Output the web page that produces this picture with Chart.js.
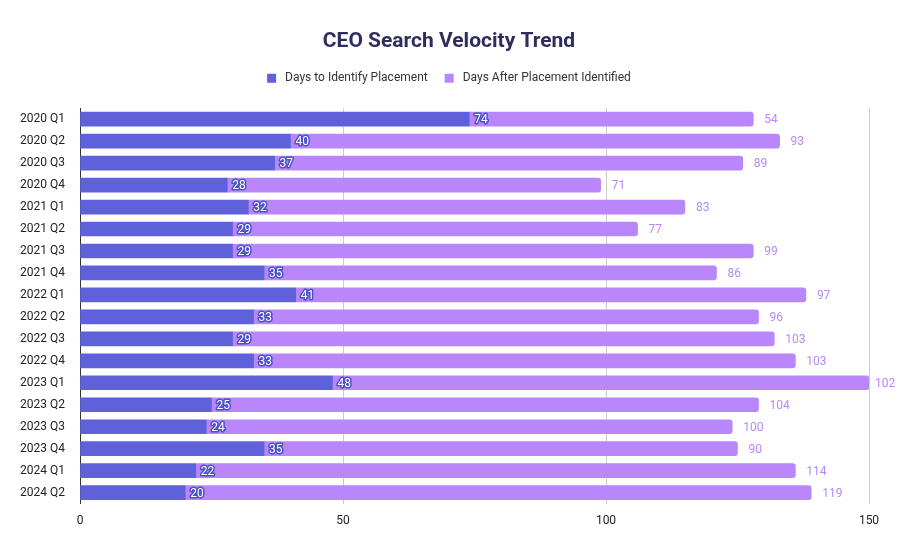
<!DOCTYPE html>
<html>
<head>
<meta charset="utf-8">
<script src="https://cdn.jsdelivr.net/npm/chart.js@4"></script>
<style>
  html, body { margin:0; padding:0; background:#fff; }
  #wrap { width:898px; height:555px; }
</style>
</head>
<body>
<div id="wrap"><canvas id="chart" width="898" height="555"></canvas></div>
<script>
// data
const quarters = ["2020 Q1","2020 Q2","2020 Q3","2020 Q4","2021 Q1","2021 Q2","2021 Q3","2021 Q4",
  "2022 Q1","2022 Q2","2022 Q3","2022 Q4","2023 Q1","2023 Q2","2023 Q3","2023 Q4","2024 Q1","2024 Q2"];
const daysToIdentify = [74,40,37,28,32,29,29,35,41,33,29,33,48,25,24,35,22,20];
const daysAfter = [54,93,89,71,83,77,99,86,97,96,103,103,102,104,100,90,114,119];
const xTicks = [0,50,100,150];

const BLUE = "#5f61db", PURPLE = "#b987fb";

// draw value labels (no datalabels plugin available offline)
const valueLabels = {
  id: "valueLabels",
  afterDatasetsDraw(chart){
    const ctx = chart.ctx;
    ctx.save();
    ctx.textBaseline = "middle";
    ctx.textAlign = "left";
    ctx.font = "12px Roboto";
    // first series: white text, outlined, just past its segment end
    chart.getDatasetMeta(0).data.forEach((bar, i)=>{
      const t = String(daysToIdentify[i]);
      ctx.lineWidth = 3;
      ctx.strokeStyle = "#4b4fc9";
      ctx.lineJoin = "round";
      ctx.strokeText(t, bar.x + 5, bar.y + 1);
      ctx.fillStyle = "#fff";
      ctx.fillText(t, bar.x + 5, bar.y + 1);
    });
    // second series: purple text outside bar end (kept inside the canvas)
    chart.getDatasetMeta(1).data.forEach((bar, i)=>{
      ctx.fillStyle = PURPLE;
      ctx.fillText(String(daysAfter[i]), Math.min(bar.x + 11, chart.width - 23), bar.y + 1);
    });
    ctx.restore();
  }
};

// empty axes used only as spacers
const spacer = (axis, pos, size) => ({
  axis, position: pos, display: true, min: 0, max: 1,
  ticks: { display: false }, grid: { display: false }, border: { display: false },
  afterFit: s => { if (pos === "right") s.width = size; else s.height = size; }
});

new Chart(document.getElementById("chart"), {
  type: "bar",
  data: {
    labels: quarters,
    datasets: [
      { label:"Days to Identify Placement", data:daysToIdentify, backgroundColor:BLUE, barThickness:14,
        xAxisID:"x", yAxisID:"y" },
      { label:"Days After Placement Identified", data:daysAfter, backgroundColor:PURPLE, barThickness:14,
        borderRadius:3, borderSkipped:"start", xAxisID:"x", yAxisID:"y" }
    ]
  },
  options: {
    indexAxis: "y",
    responsive:false,
    animation:false,
    layout: { padding:{ left:0, right:0, top:25, bottom:17 } },
    plugins: {
      title: { display:true, text:"CEO Search Velocity Trend", color:"#2e2e5c",
        font:{ family:"Roboto", size:21, weight:"bold" }, padding:{ top:4, bottom:1 } },
      legend: { labels:{ color:"#333", font:{ family:"Roboto", size:12 }, boxWidth:9, boxHeight:9, padding:17,
        generateLabels: c => Chart.defaults.plugins.legend.labels.generateLabels(c).map(l => ({ ...l, text:" " + l.text })) } },
      tooltip: { enabled:false }
    },
    scales: {
      x: {
        stacked:true, min:0, max:150,
        afterBuildTicks: s => { s.ticks = xTicks.map(v => ({ value:v })); },
        grid: { color:"#cccccc", drawTicks:false },
        border: { display:false },
        ticks: { color:"#222", font:{ family:"Roboto", size:12 }, padding:10 }
      },
      xTop: spacer("x", "top", 14),
      yRight: spacer("y", "right", 29),
      y: {
        type:"category",
        stacked:true,
        afterFit: s => { s.width = 80; },
        grid: { display:false },
        border: { color:"#333" },
        ticks: { color:"#222", font:{ family:"Roboto", size:12 }, padding:7 }
      }
    }
  },
  plugins:[valueLabels]
});
</script>
</body>
</html>
